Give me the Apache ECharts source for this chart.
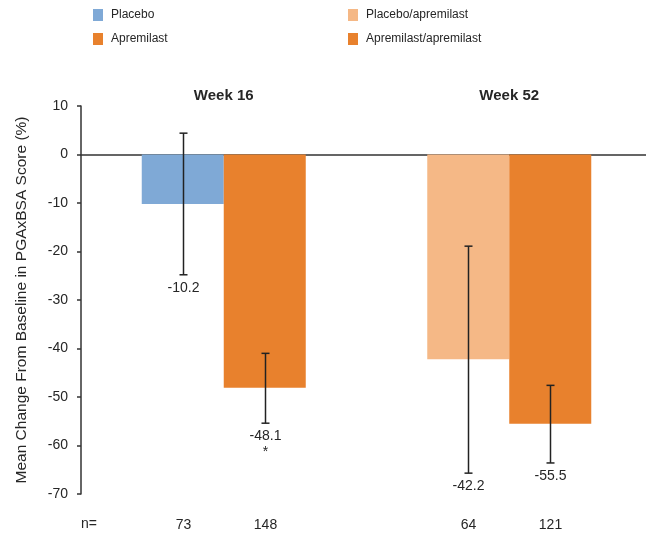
<!DOCTYPE html>
<html>
<head>
<meta charset="utf-8">
<script src="https://cdn.jsdelivr.net/npm/echarts@6/dist/echarts.min.js"></script>
<style>html,body{margin:0;padding:0;background:#fff}#c{width:646px;height:533px}</style>
</head>
<body>
<div id="c"></div>
<script>
// ---- data ----
var categories = ['Week 16', 'Week 52'];
var barNames = ['Placebo', 'Apremilast', 'Placebo/apremilast', 'Apremilast/apremilast'];
var barCategory = [0, 0, 1, 1];
var barSlot = [0, 1, 0, 1];
var means = [-10.2, -48.1, -42.2, -55.5];
var errUpper = [4.4, -41.0, -18.9, -47.6];
var errLower = [-24.8, -55.4, -65.7, -63.6];
var nCounts = [73, 148, 64, 121];
var notes = ['', '*', '', ''];
var yTicks = { min: -70, max: 10, interval: 10 };

// ---- style ----
var colors = ['#7FA9D6', '#E8812D', '#F5B886', '#E8812D'];
var stacks = ['a', 'b', 'a', 'b'];
var textColor = '#262626';
var font = 'Liberation Sans, Arial, sans-serif';
var BAR_W = 82;

var chart = echarts.init(document.getElementById('c'), null, { renderer: 'canvas' });

var barSeries = barNames.map(function (name, i) {
  var d = categories.map(function (c, ci) { return ci === barCategory[i] ? means[i] : null; });
  return {
    name: name, type: 'bar', stack: stacks[i], data: d, z: 2,
    barWidth: BAR_W, barGap: '0%', itemStyle: { color: colors[i] },
    xAxisIndex: 0, yAxisIndex: 0, silent: true, animation: false
  };
});

var errData = barNames.map(function (n, i) {
  return [barCategory[i], barSlot[i], means[i], errUpper[i], errLower[i], nCounts[i], notes[i]];
});

var errSeries = {
  type: 'custom', name: 'err', xAxisIndex: 0, yAxisIndex: 0, animation: false, silent: true, z: 10,
  encode: { x: 0, y: [3, 4] },
  data: errData,
  renderItem: function (params, api) {
    var cat = api.value(0), slot = api.value(1);
    var mean = api.value(2), up = api.value(3), lo = api.value(4);
    var i = params.dataIndex;
    var c = api.coord([cat, 0]);
    var x = Math.round(c[0] + (slot - 0.5) * BAR_W) + 0.5;
    var yU = api.coord([cat, up])[1];
    var yL = api.coord([cat, lo])[1];
    var yBottom = api.coord([cat, yTicks.min])[1];
    var ls = { stroke: '#222', lineWidth: 1.5 };
    var cap = 4;
    var children = [
      { type: 'line', shape: { x1: x, y1: yU, x2: x, y2: yL }, style: ls },
      { type: 'line', shape: { x1: x - cap, y1: yU, x2: x + cap, y2: yU }, style: ls },
      { type: 'line', shape: { x1: x - cap, y1: yL, x2: x + cap, y2: yL }, style: ls },
      { type: 'text', x: x, y: yL + 13, style: { text: mean.toFixed(1), fill: textColor, font: '14px ' + font, align: 'center', verticalAlign: 'middle' } },
      { type: 'text', x: x, y: yBottom + 31, style: { text: String(nCounts[i]), fill: textColor, font: '14px ' + font, align: 'center', verticalAlign: 'middle' } }
    ];
    if (notes[i]) {
      children.push({ type: 'text', x: x, y: yL + 29, style: { text: notes[i], fill: textColor, font: '14px ' + font, align: 'center', verticalAlign: 'middle' } });
    }
    return { type: 'group', children: children };
  }
};

var legendCommon = {
  orient: 'vertical', top: 9, padding: 0, itemWidth: 10, itemHeight: 12, itemGap: 12,
  icon: 'rect', selectedMode: false,
  textStyle: { fontSize: 12, color: textColor, fontFamily: font, padding: [0, 0, 0, 3] }
};

chart.setOption({
  animation: false,
  backgroundColor: '#fff',
  grid: { left: 81, width: 571, top: 106, bottom: 39, outerBoundsMode: 'none', containLabel: false },
  legend: [
    Object.assign({}, legendCommon, { left: 93, data: [barNames[0], barNames[1]] }),
    Object.assign({}, legendCommon, { left: 348, data: [barNames[2], barNames[3]] })
  ],
  xAxis: [
    { type: 'category', data: categories, boundaryGap: true,
      axisLine: { show: true, onZero: true, lineStyle: { color: '#333', width: 1.5 } },
      axisTick: { show: false }, axisLabel: { show: false }, splitLine: { show: false } },
    { type: 'category', data: categories, position: 'top', boundaryGap: true,
      axisLine: { show: false, onZero: false }, axisTick: { show: false },
      axisLabel: { show: true, margin: 3, color: textColor, fontSize: 15, fontWeight: 'bold', fontFamily: font } }
  ],
  yAxis: {
    type: 'value', min: yTicks.min, max: yTicks.max, interval: yTicks.interval,
    name: 'Mean Change From Baseline in PGAxBSA Score (%)', nameLocation: 'middle', nameRotate: 90, nameGap: 51,
    nameTextStyle: { fontSize: 15.5, color: textColor, fontFamily: font },
    axisLine: { show: true, lineStyle: { color: '#333', width: 1.5 } },
    axisTick: { show: true, length: 4, lineStyle: { color: '#333', width: 1.5 } },
    axisLabel: { margin: 13, fontSize: 14, color: textColor, fontFamily: font },
    splitLine: { show: false }
  },
  graphic: [
    { type: 'text', left: 81, top: 517, style: { text: 'n=', fill: textColor, font: '14px ' + font } }
  ],
  series: barSeries.concat([errSeries])
});
</script>
</body>
</html>
